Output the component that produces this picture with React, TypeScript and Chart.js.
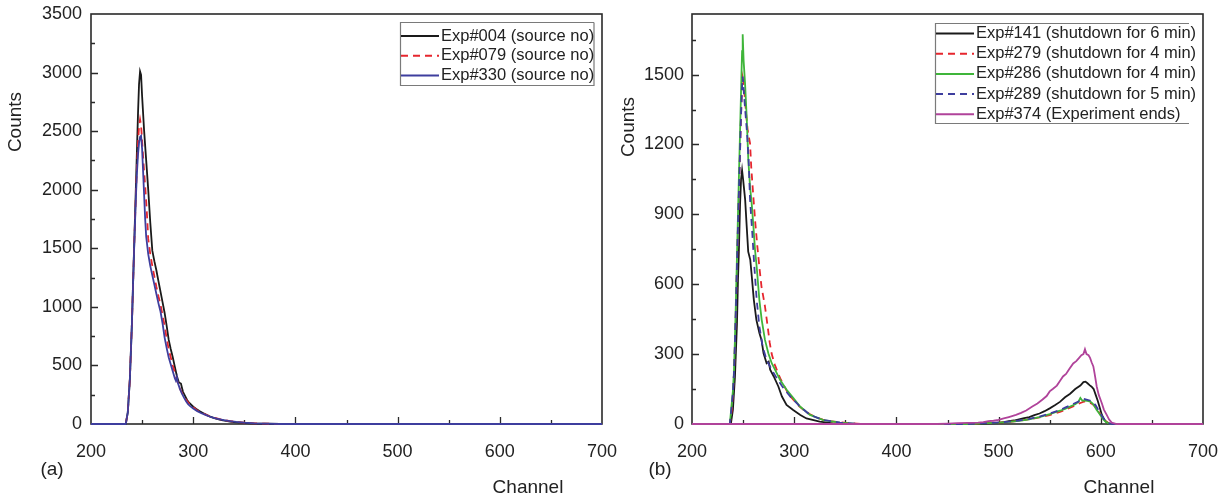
import { useEffect, useRef } from "react";
import { Chart, registerables } from "chart.js";
Chart.register(...registerables);

const FONT = '"Liberation Sans", Arial, Helvetica, sans-serif';

// ---------- Panel (a) ----------
const exp004Ch = [200,234,236,238,240,241,242,243,244,245,246,247,248,249,250,252,254,256,258,260,262,264,266,268,270,272,274,276,278,280,282,284,286,288,289,290,292,294,296,298,300,303,306,310,313,316,320,324,328,332,336,340,346,352,360,370,385,700];
const exp004Counts = [0,0,100,380,850,1150,1450,1750,2050,2350,2650,2900,3010,2980,2800,2500,2250,2000,1720,1480,1390,1310,1220,1130,1040,950,840,720,640,570,490,410,355,345,310,275,240,205,182,165,148,128,110,92,78,65,52,42,34,27,21,16,11,7,4,2,0,0];

const exp079Ch = [200,234,236,238,240,241,242,243,244,245,246,247,248,249,250,251,252,253,254,255,256,258,260,262,264,266,268,270,272,274,276,278,280,282,284,286,288,290,292,294,296,298,300,303,306,310,315,320,325,330,336,342,350,360,370,385,700];
const exp079Counts = [0,0,100,380,850,1150,1450,1720,1980,2200,2400,2540,2600,2550,2420,2280,2150,2030,1900,1750,1580,1450,1350,1260,1170,1090,1020,930,840,730,640,570,500,440,380,320,285,250,220,195,175,158,143,122,105,88,70,55,43,33,25,18,11,6,3,0,0];

const exp330Ch = [200,234,236,238,240,241,242,243,244,245,246,247,248,249,250,251,252,253,254,256,258,260,262,264,266,268,270,272,274,276,278,280,282,283,284,285,287,289,291,293,295,297,300,304,308,312,316,320,325,330,336,342,350,360,370,385,700];
const exp330Counts = [0,0,100,380,850,1150,1440,1700,1950,2150,2300,2400,2450,2460,2350,2150,1950,1750,1600,1450,1350,1270,1190,1110,1030,960,860,740,650,570,510,450,390,370,400,350,300,260,225,195,170,152,132,110,92,78,64,52,42,33,25,18,11,6,3,0,0];

// ---------- Panel (b) ----------
const exp141Ch = [200,238,240,242,244,245,246,247,248,249,250,252,253.5,255,257,258.5,260.5,263,266,268,270,273,275,276.5,280,284.5,288,292.5,299,306,312,325,338,350,480,490,500,505,510,515,520,525,530,535,540,545,550,555,560,565,570,575,580,583,585,587,589,591,593,595,597,599,601,603,605,607,610,700];
const exp141Counts = [0,0,60,200,430,620,760,940,1050,1089,1050,963,850,740,705,634,533,447,390,361,304,261,268,233,204,161,118,82,60,39,24,10,3,0,0,3,4,8,12,15,20,25,30,38,45,55,67,80,95,115,130,150,165,180,182,175,167,160,150,125,100,70,40,22,10,3,0,0];

const exp279Ch = [200,237,239,240,241,242,243,244,245,246,247,248,249,249.6,250.5,251.5,253,254.5,256.8,258,260,262,264,266,268,270,271.4,274,276,278,281,284,287,290,293,296,300,305,310,316,322,328,335,345,355,365,470,480,490,500,510,520,530,540,550,560,565,570,575,580,584,587,590,593,596,599,602,605,608,611,700];
const exp279Counts = [0,0,60,130,210,340,500,680,850,1010,1170,1330,1450,1485,1460,1410,1330,1260,1205,1100,977,860,760,670,590,540,505,420,350,300,255,220,190,165,140,120,100,76,58,40,28,19,12,7,3,0,0,2,4,6,9,14,20,28,38,52,60,70,80,90,97,95,90,82,65,45,25,12,3,0,0];

const exp286Ch = [200,237,240,241,242,243,244,245,246,247,248,249,249.6,250.5,251.9,253.5,255.1,256.8,258.4,260.1,261.7,263.3,265.9,268.2,271.4,274.7,278,281.2,286.1,292.6,299.2,305.7,315.5,328.5,344.8,361,470,480,490,500,510,520,530,535,540,545,550,555,560,565,570,575,578,580,582,585,588,590,592,594,596,598,600,602,605,608,611,700];
const exp286Counts = [0,0,140,220,360,534,720,900,1080,1250,1430,1600,1673,1560,1462,1319,1133,1018,947,847,746,675,533,447,361,304,261,233,190,147,111,75,39,17,6,0,0,2,4,6,9,13,20,25,30,36,42,50,57,65,75,85,95,112,100,100,98,95,88,75,60,48,35,22,9,2,0,0];

const exp289Ch = [200,237,240,241,242,243,244,245,246,247,248,249,249.6,251.3,253.9,255.4,256.8,259,261,263.3,265.9,269.1,273,278,282.9,289.4,297.5,305.7,315.5,328.5,344.8,365,470,480,490,500,510,520,530,540,550,560,565,570,575,580,583,586,590,593,595,597,599,601,603,605,608,611,700];
const exp289Counts = [0,0,130,210,340,500,680,850,1010,1170,1330,1450,1491,1390,1247,1133,963,819,676,533,419,333,275,233,197,154,111,75,39,17,6,0,0,2,4,7,10,15,22,32,45,60,70,80,90,100,108,105,100,90,80,65,50,35,22,12,3,0,0];

const exp374Ch = [200,440,450,460,470,480,485,490,495,500,505,510,517,522,527,533,538,543,547,550,553,557,560,563,566,569,573,576,579,581,583,584.5,586,588,589.5,591,592.7,594,596,598,601,603,605.8,608,610.7,615.6,700];
const exp374Counts = [0,0,2,4,5,6,8,12,14,18,24,30,39,48,58,75,88,105,120,140,150,165,185,204,215,235,260,270,285,295,300,321,300,295,284,265,247,215,161,125,89,62,39,20,6,0,0];

// ---------- Ticks & labels ----------
const xTicks = [200, 300, 400, 500, 600, 700];
const yTicksA = [0, 500, 1000, 1500, 2000, 2500, 3000, 3500];
const yTicksB = [0, 300, 600, 900, 1200, 1500];
const legendA = ["Exp#004 (source no)", "Exp#079 (source no)", "Exp#330 (source no)"];
const legendB = [
  "Exp#141 (shutdown for 6 min)",
  "Exp#279 (shutdown for 4 min)",
  "Exp#286 (shutdown for 4 min)",
  "Exp#289 (shutdown for 5 min)",
  "Exp#374 (Experiment ends)",
];
const xTitle = "Channel";
const yTitle = "Counts";

const zip = (xs: number[], ys: number[]) => xs.map((x, i) => ({ x, y: ys[i] }));

type Series = { label: string; ch: number[]; counts: number[]; color: string; dash: number[]; order: number };
type Panel = {
  series: Series[];
  yTicks: number[];
  yMax: number;
  yStep: number;
  yMinor: number;
  yWidth: number;
  canvasW: number;
  padRight: number;
  yPad: number;
  legend: { x: number; top: number; bottom: number; right: number; firstY: number; gap: number; lineLen: number; rightBorder: boolean };
  tag: string;
  tagX: number;
  countsX: number;
  countsY: number;
  channelX: number;
};

const BLACK = "#1a1a1a";
const RED = "#e6262e";
const GREEN = "#3fb53a";
const NAVY = "#3e3e9e";
const MAGENTA = "#b0439a";

const panelA: Panel = {
  series: [
    { label: legendA[0], ch: exp004Ch, counts: exp004Counts, color: BLACK, dash: [], order: 3 },
    { label: legendA[1], ch: exp079Ch, counts: exp079Counts, color: RED, dash: [7, 5], order: 2 },
    { label: legendA[2], ch: exp330Ch, counts: exp330Counts, color: NAVY, dash: [], order: 1 },
  ],
  yTicks: yTicksA,
  yMax: 3500,
  yStep: 500,
  yMinor: 250,
  yWidth: 91,
  canvasW: 650,
  padRight: 48,
  yPad: 9,
  legend: { x: 400, top: 22, bottom: 85, right: 594, firstY: 36, gap: 19.7, lineLen: 38, rightBorder: true },
  tag: "(a)",
  tagX: 52,
  countsX: 16,
  countsY: 122,
  channelX: 528,
};

const panelB: Panel = {
  series: [
    { label: legendB[0], ch: exp141Ch, counts: exp141Counts, color: BLACK, dash: [], order: 5 },
    { label: legendB[1], ch: exp279Ch, counts: exp279Counts, color: RED, dash: [7, 5], order: 4 },
    { label: legendB[2], ch: exp286Ch, counts: exp286Counts, color: GREEN, dash: [], order: 3 },
    { label: legendB[3], ch: exp289Ch, counts: exp289Counts, color: NAVY, dash: [7, 5], order: 2 },
    { label: legendB[4], ch: exp374Ch, counts: exp374Counts, color: MAGENTA, dash: [], order: 1 },
  ],
  yTicks: yTicksB,
  yMax: 1760,
  yStep: 300,
  yMinor: 150,
  yWidth: 78,
  canvasW: 614,
  padRight: 25,
  yPad: 8,
  legend: { x: 321, top: 23, bottom: 123, right: 575, firstY: 33.5, gap: 20.2, lineLen: 38, rightBorder: false },
  tag: "(b)",
  tagX: 46,
  countsX: 15,
  countsY: 127,
  channelX: 505,
};

function decorPlugin(p: Panel) {
  return {
    id: "decor",
    beforeDatasetsDraw(chart: any) {
      const { ctx, chartArea: a, scales } = chart;
      const xs = scales.x;
      const ys = scales.y;
      ctx.save();
      ctx.strokeStyle = "#2a2a2a";
      ctx.lineWidth = 1.6;
      ctx.strokeRect(a.left, a.top, a.right - a.left, a.bottom - a.top);
      ctx.lineWidth = 1.3;
      ctx.beginPath();
      for (let v = 250; v < 700; v += 50) {
        const px = Math.round(xs.getPixelForValue(v)) + 0.5;
        const len = v % 100 === 0 ? 7 : 4;
        ctx.moveTo(px, a.bottom);
        ctx.lineTo(px, a.bottom - len);
      }
      for (let v = p.yMinor; v < p.yMax; v += p.yMinor) {
        const py = Math.round(ys.getPixelForValue(v)) + 0.5;
        const len = v % p.yStep === 0 ? 7 : 4;
        ctx.moveTo(a.left, py);
        ctx.lineTo(a.left + len, py);
      }
      ctx.stroke();
      ctx.restore();
    },
    afterDatasetsDraw(chart: any) {
      const { ctx } = chart;
      const L = p.legend;
      ctx.save();
      ctx.strokeStyle = "#7a7a7a";
      ctx.lineWidth = 1.2;
      ctx.beginPath();
      ctx.moveTo(L.right, L.top + 0.5);
      ctx.lineTo(L.x + 0.5, L.top + 0.5);
      ctx.lineTo(L.x + 0.5, L.bottom + 0.5);
      ctx.lineTo(L.right, L.bottom + 0.5);
      if (L.rightBorder) ctx.lineTo(L.right, L.top + 0.5);
      ctx.stroke();
      ctx.font = `16.5px ${FONT}`;
      ctx.textBaseline = "middle";
      ctx.textAlign = "left";
      p.series.forEach((s, i) => {
        const y = L.firstY + i * L.gap;
        ctx.strokeStyle = s.color;
        ctx.lineWidth = 2;
        ctx.setLineDash(s.dash);
        ctx.beginPath();
        ctx.moveTo(L.x + 1, y);
        ctx.lineTo(L.x + 1 + L.lineLen, y);
        ctx.stroke();
        ctx.setLineDash([]);
        ctx.fillStyle = "#222";
        ctx.fillText(s.label, L.x + L.lineLen + 3, y);
      });
      ctx.fillStyle = "#222";
      ctx.font = `19px ${FONT}`;
      ctx.textAlign = "center";
      ctx.fillText(xTitle, p.channelX, 488);
      ctx.fillText(p.tag, p.tagX, 470);
      ctx.save();
      ctx.translate(p.countsX, p.countsY);
      ctx.rotate(-Math.PI / 2);
      ctx.fillText(yTitle, 0, 0);
      ctx.restore();
      ctx.restore();
    },
  };
}

function PanelChart({ p, left }: { p: Panel; left: number }) {
  const ref = useRef<HTMLCanvasElement | null>(null);
  useEffect(() => {
    if (!ref.current) return;
    Chart.defaults.font.family = FONT;
    const chart = new Chart(ref.current, {
      type: "line",
      data: {
        datasets: p.series.map((s) => ({
          label: s.label,
          data: zip(s.ch, s.counts),
          borderColor: s.color,
          backgroundColor: s.color,
          borderDash: s.dash,
          borderWidth: 1.8,
          pointRadius: 0,
          tension: 0,
          fill: false,
          order: s.order,
          clip: 3,
        })),
      },
      options: {
        animation: false,
        responsive: false,
        events: [],
        layout: { padding: { left: 0, top: 14, right: p.padRight, bottom: 0 } },
        plugins: { legend: { display: false }, tooltip: { enabled: false } },
        scales: {
          x: {
            type: "linear",
            min: 200,
            max: 700,
            grid: { display: false, drawTicks: false },
            border: { display: false },
            ticks: { padding: 17, color: "#222", font: { size: 18 }, maxRotation: 0, autoSkip: false, callback: (v: any) => String(v) },
            afterBuildTicks: (s: any) => {
              s.ticks = xTicks.map((v) => ({ value: v }));
            },
            afterFit: (s: any) => {
              s.height = 71;
              s.paddingLeft = 0;
              s.paddingRight = 0;
            },
          },
          y: {
            type: "linear",
            min: 0,
            max: p.yMax,
            grid: { display: false, drawTicks: false },
            border: { display: false },
            ticks: { padding: p.yPad, color: "#222", font: { size: 18 }, autoSkip: false, callback: (v: any) => String(v) },
            afterBuildTicks: (s: any) => {
              s.ticks = p.yTicks.map((v) => ({ value: v }));
            },
            afterFit: (s: any) => {
              s.width = p.yWidth;
              s.paddingTop = 0;
              s.paddingBottom = 0;
            },
          },
        },
      },
      plugins: [decorPlugin(p)],
    } as any);
    return () => chart.destroy();
  }, [p]);
  return (
    <canvas
      ref={ref}
      width={p.canvasW}
      height={495}
      style={{ position: "absolute", left, top: 0, width: p.canvasW, height: 495, display: "block" }}
    />
  );
}

export default function App() {
  return (
    <div style={{ position: "absolute", left: 0, top: 0, width: 1228, height: 495, background: "#fff", overflow: "hidden" }}>
      <PanelChart p={panelA} left={0} />
      <PanelChart p={panelB} left={614} />
    </div>
  );
}
